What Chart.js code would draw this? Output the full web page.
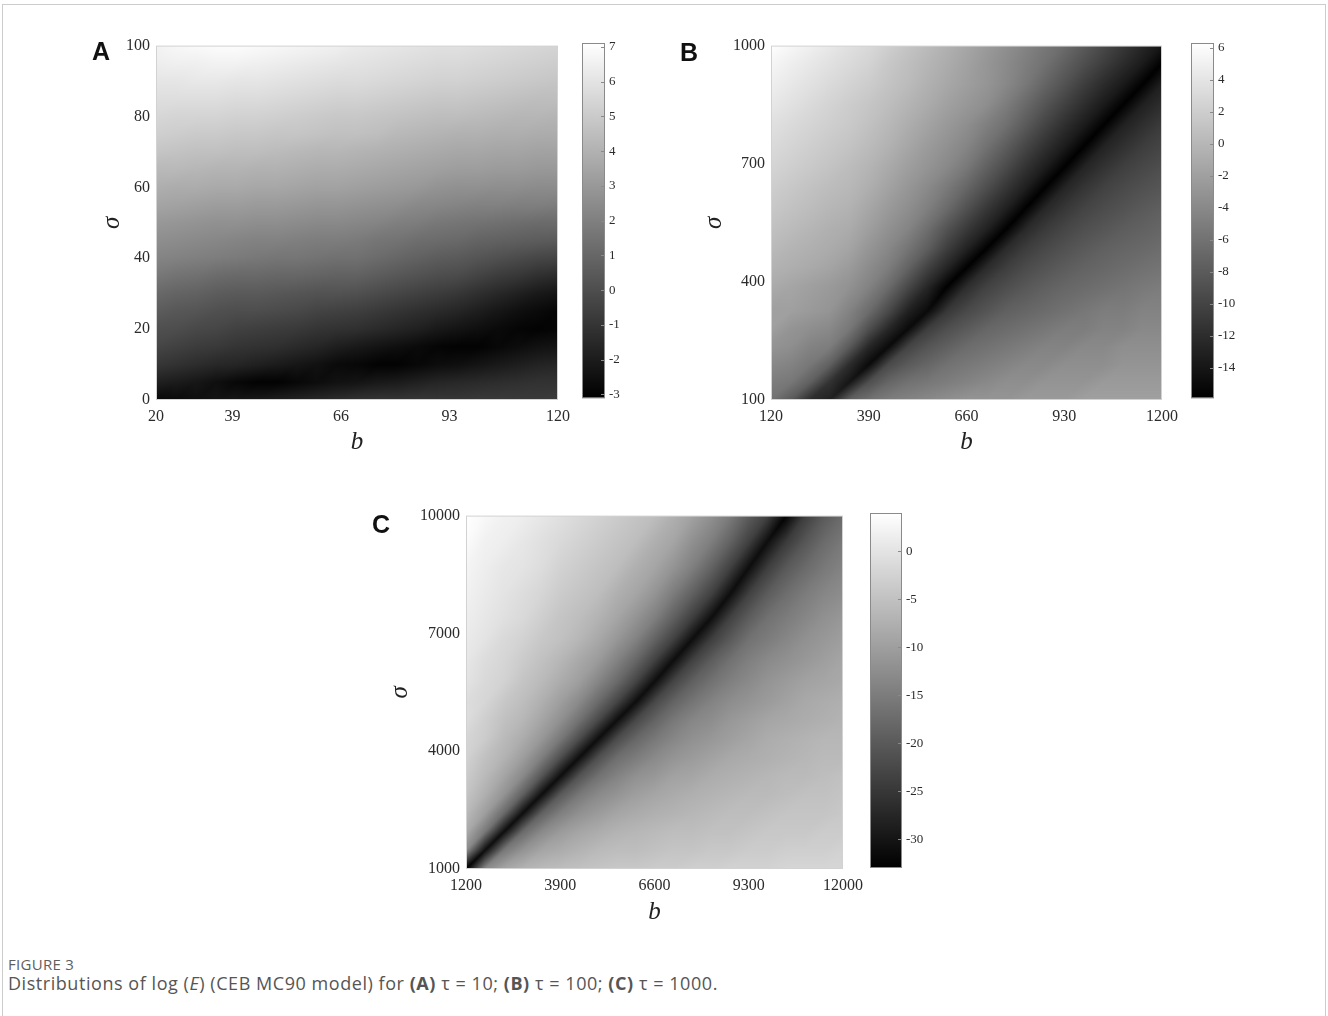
<!DOCTYPE html>
<html>
<head>
<meta charset="utf-8">
<title>Figure 3 - log(E) distributions</title>
<script src="https://cdn.jsdelivr.net/npm/chart.js@4.4.1/dist/chart.umd.min.js"></script>
<style>
  html, body { margin: 0; padding: 0; background: #ffffff; }
  body { position: relative; width: 1328px; height: 1016px; overflow: hidden; }
  .frame { position: absolute; left: 2px; top: 4px; width: 1322px; height: 1040px;
           border: 1px solid #cccccc; border-bottom: none; }
  canvas { position: absolute; }
  .letter { position: absolute; font-family: "Liberation Sans", Arial, sans-serif; font-weight: 700;
            font-size: 25px; line-height: 25px; color: #111111; }
  .caption { position: absolute; left: 8px; font-family: "Open Sans", "Noto Sans", sans-serif;
             color: #555555; white-space: nowrap; line-height: 1.3; }
  .caption.head { top: 955px; font-size: 15px; letter-spacing: 0.3px; color: #5e5e5e; }
  .caption.body { top: 972px; font-size: 18px; letter-spacing: 0.55px; }
</style>
</head>
<body>
<div class="frame"></div>

<canvas id="heatA" width="540" height="432" style="left:40px;top:30px"></canvas>
<canvas id="barA" width="60" height="380" style="left:582px;top:30px"></canvas>
<canvas id="heatB" width="530" height="432" style="left:655px;top:30px"></canvas>
<canvas id="barB" width="60" height="380" style="left:1191px;top:30px"></canvas>
<canvas id="heatC" width="520" height="431" style="left:350px;top:500px"></canvas>
<canvas id="barC" width="70" height="380" style="left:870px;top:500px"></canvas>

<div class="letter" style="left:92px;top:39px">A</div>
<div class="letter" style="left:680px;top:40px">B</div>
<div class="letter" style="left:372px;top:512px">C</div>

<div class="caption head">FIGURE 3</div>
<div class="caption body">Distributions of log (<i>E</i>) (CEB MC90 model) for <b>(A)</b> τ = 10; <b>(B)</b> τ = 100; <b>(C)</b> τ = 1000.</div>

<script>
// ---------- Panel A: tau = 10 ----------
const bA = [20, 25, 30, 35, 40, 45, 50, 55, 60, 65, 70, 75, 80, 85, 90, 95, 100, 105, 110, 115, 120];
const sigmaA = [100, 95, 90, 85, 80, 75, 70, 65, 60, 55, 50, 45, 40, 35, 30, 25, 20, 15, 10, 5, 0];
const logEA = [
  [6.6,6.8,6.9,7.0,7.0,6.9,6.8,6.7,6.6,6.5,6.3,6.2,6.1,6.0,5.9,5.9,5.8,5.7,5.6,5.5,5.4],
  [6.4,6.5,6.5,6.6,6.6,6.5,6.4,6.3,6.2,6.1,6.0,5.9,5.8,5.7,5.6,5.6,5.5,5.4,5.3,5.2,5.1],
  [6.1,6.1,6.2,6.2,6.1,6.1,6.0,5.9,5.8,5.7,5.7,5.6,5.5,5.4,5.3,5.3,5.2,5.1,5.0,4.9,4.8],
  [5.8,5.8,5.8,5.8,5.7,5.7,5.6,5.5,5.4,5.3,5.3,5.2,5.1,5.0,4.9,4.9,4.8,4.7,4.6,4.5,4.5],
  [5.5,5.4,5.4,5.4,5.3,5.3,5.2,5.1,5.0,4.9,4.9,4.8,4.7,4.6,4.5,4.5,4.4,4.3,4.2,4.2,4.1],
  [5.2,5.1,5.0,5.0,4.9,4.9,4.8,4.8,4.7,4.6,4.6,4.5,4.3,4.2,4.1,4.0,4.0,3.9,3.9,3.8,3.8],
  [4.8,4.7,4.6,4.6,4.5,4.5,4.4,4.3,4.2,4.2,4.1,4.0,3.9,3.8,3.7,3.6,3.6,3.5,3.5,3.4,3.4],
  [4.3,4.3,4.2,4.1,4.1,4.0,4.0,3.9,3.8,3.8,3.7,3.6,3.5,3.4,3.3,3.2,3.2,3.1,3.1,3.0,3.0],
  [3.9,3.8,3.8,3.7,3.7,3.6,3.6,3.5,3.4,3.4,3.3,3.2,3.1,3.0,2.8,2.7,2.7,2.6,2.6,2.5,2.5],
  [3.5,3.4,3.3,3.2,3.2,3.1,3.1,3.0,2.9,2.9,2.8,2.7,2.6,2.4,2.3,2.2,2.1,2.1,2.0,2.0,1.9],
  [3.0,2.9,2.8,2.7,2.7,2.6,2.6,2.5,2.4,2.4,2.3,2.2,2.0,1.9,1.7,1.6,1.5,1.4,1.3,1.2,1.2],
  [2.6,2.5,2.4,2.3,2.2,2.1,2.1,2.0,1.9,1.9,1.8,1.6,1.5,1.3,1.2,1.1,0.9,0.8,0.7,0.6,0.5],
  [2.2,2.1,2.0,1.9,1.8,1.7,1.6,1.6,1.5,1.4,1.4,1.2,1.0,0.8,0.6,0.5,0.3,0.1,-0.1,-0.3,-0.4],
  [1.7,1.5,1.4,1.2,1.1,1.1,1.0,1.0,0.9,0.8,0.8,0.6,0.4,0.2,0.0,-0.1,-0.4,-0.7,-0.9,-1.2,-1.4],
  [1.1,0.9,0.8,0.6,0.5,0.5,0.4,0.3,0.2,0.2,0.1,-0.1,-0.3,-0.5,-0.7,-0.9,-1.2,-1.5,-1.8,-2.1,-2.3],
  [0.6,0.4,0.3,0.1,0.0,0.0,-0.1,-0.2,-0.4,-0.5,-0.6,-0.8,-1.0,-1.2,-1.4,-1.6,-1.9,-2.2,-2.5,-2.7,-2.9],
  [0.1,0.0,-0.2,-0.3,-0.5,-0.6,-0.7,-0.8,-1.0,-1.1,-1.2,-1.4,-1.6,-1.8,-2.1,-2.3,-2.5,-2.7,-2.9,-3.0,-2.9],
  [-0.3,-0.5,-0.7,-0.8,-1.0,-1.1,-1.2,-1.4,-1.6,-1.9,-2.1,-2.3,-2.5,-2.7,-2.9,-3.0,-3.0,-2.8,-2.6,-2.4,-2.3],
  [-0.9,-1.1,-1.3,-1.5,-1.6,-1.8,-2.0,-2.2,-2.4,-2.7,-2.8,-3.0,-3.0,-2.8,-2.6,-2.5,-2.3,-2.1,-1.9,-1.7,-1.6],
  [-1.8,-2.0,-2.2,-2.5,-2.8,-3.0,-3.0,-2.8,-2.6,-2.4,-2.3,-2.1,-2.0,-1.8,-1.6,-1.5,-1.4,-1.3,-1.2,-1.1,-1.1],
  [-2.8,-2.7,-2.5,-2.3,-2.2,-2.1,-1.9,-1.7,-1.5,-1.3,-1.1,-1.0,-1.0,-0.9,-0.9,-0.9,-0.8,-0.8,-0.8,-0.8,-0.7]
];
const bTicksA = [20, 39, 66, 93, 120];
const sigmaTicksA = [0, 20, 40, 60, 80, 100];
const colorRangeA = [-3.11, 7.11];
const colorTicksA = [-3, -2, -1, 0, 1, 2, 3, 4, 5, 6, 7];

// ---------- Panel B: tau = 100 ----------
const bB = [120, 174, 228, 282, 336, 390, 444, 498, 552, 606, 660, 714, 768, 822, 876, 930, 984, 1038, 1092, 1146, 1200];
const sigmaB = [1000, 955, 901, 849, 797, 744, 691, 639, 586, 533, 484, 436, 388, 325, 280, 235, 190, 145, 100];
const logEB = [
  [6.3,5.6,5.0,4.3,3.6,3.0,2.1,1.2,0.4,-0.5,-1.4,-2.4,-3.4,-4.4,-5.5,-6.5,-8,-9.5,-11,-12.5,-14],
  [5.5,4.9,4.3,3.7,3.1,2.5,1.5,0.7,-0.1,-0.9,-1.8,-2.8,-3.8,-4.9,-6,-7.5,-9,-10.5,-12,-13.5,-15.8],
  [4.9,4.3,3.7,3.1,2.5,1.9,1.1,0.4,-0.5,-1.3,-2.1,-2.9,-4,-5.4,-7.1,-8.7,-10.5,-12.1,-13.6,-15.8,-13.1],
  [4.3,3.7,3.1,2.5,1.9,1.3,0.6,-0.2,-1,-1.9,-2.7,-3.5,-5,-6.7,-8.5,-10.2,-11.9,-13.6,-15.8,-13.1,-11.9],
  [3.6,3.1,2.6,2.1,1.6,0.9,0.1,-0.8,-1.7,-2.6,-3.5,-4.8,-6.1,-8,-10,-11.8,-13.5,-15.8,-13,-11.8,-10.7],
  [3.1,2.6,2.1,1.6,1.1,0.4,-0.4,-1.4,-2.4,-3.3,-4.3,-5.9,-7.7,-9.7,-11.6,-13.4,-15.8,-12.9,-11.7,-10.6,-9.9],
  [2.6,2.1,1.6,1.1,0.5,-0.2,-1.1,-2.1,-3,-4,-5.4,-7.4,-9.3,-11.4,-13.3,-15.8,-12.8,-11.5,-10.4,-9.7,-9.1],
  [2,1.5,1,0.5,0.1,-0.7,-1.75,-2.8,-3.9,-5.3,-7,-9,-11.1,-13.1,-15.8,-12.7,-11.3,-10.2,-9.5,-8.9,-8.4],
  [1.5,1,0.5,0,-0.4,-1.4,-2.5,-3.5,-4.8,-6.6,-8.8,-11,-13,-15.8,-12.5,-11.1,-10,-9.3,-8.7,-8.1,-7.6],
  [0.9,0.4,-0.1,-0.6,-1,-2.1,-3.3,-4.4,-6.3,-8.7,-10.9,-12.9,-15.8,-12.3,-10.8,-9.8,-9,-8.4,-7.8,-7.4,-7],
  [0.3,-0.2,-0.6,-1.0,-1.6,-2.9,-4.1,-5.7,-7.7,-10.5,-12.9,-15.8,-12.2,-10.6,-9.6,-8.8,-8.1,-7.5,-7.1,-6.8,-6.4],
  [-0.3,-0.7,-1.1,-1.6,-2.4,-3.7,-5,-7.2,-10.1,-12.7,-15.8,-12.2,-10.5,-9.4,-8.6,-7.9,-7.3,-6.9,-6.5,-6.1,-5.8],
  [-1,-1.5,-2,-2.5,-3.2,-4.5,-6.5,-9.5,-12.5,-15.8,-12,-10.2,-9.2,-8.3,-7.6,-7,-6.6,-6.2,-5.8,-5.4,-5.1],
  [-2,-2,-2.5,-3,-4.5,-6.5,-9.5,-13,-15,-11,-9.5,-8.5,-7.5,-7,-6.5,-6,-5.5,-5,-5,-4.5,-4.5],
  [-2,-3,-3.5,-4,-5.5,-9,-12.5,-15,-10.5,-9,-8,-7,-6.5,-6,-5.5,-5,-5,-4.5,-4.5,-4,-4],
  [-3,-3.5,-4.5,-5,-8,-12.5,-15,-10,-8.5,-7.5,-6.5,-6,-5.5,-5,-4.5,-4.5,-4,-4,-3.5,-3.5,-3.5],
  [-4,-4.5,-5.5,-7.5,-12,-15,-9.5,-8,-7,-6,-5.5,-5,-4.5,-4,-4,-3.5,-3.5,-3.5,-3,-3,-3],
  [-5,-5.5,-7.5,-11.5,-14,-9,-7,-6,-5.5,-5,-4.5,-4,-3.5,-3.5,-3,-3,-3,-2.5,-2.5,-2.5,-2.5],
  [-6,-8,-12,-13,-7.5,-6,-5,-4.5,-4,-3.5,-3,-3,-3,-2.5,-2.5,-2.5,-2,-2,-2,-2,-2]
];
const bTicksB = [120, 390, 660, 930, 1200];
const sigmaTicksB = [100, 400, 700, 1000];
const colorRangeB = [-15.9, 6.3];
const colorTicksB = [-14, -12, -10, -8, -6, -4, -2, 0, 2, 4, 6];

// ---------- Panel C: tau = 1000 ----------
const bC = [1200, 1740, 2280, 2820, 3360, 3900, 4440, 4980, 5520, 6060, 6600, 7140, 7680, 8220, 8760, 9300, 9840, 10380, 10920, 11460, 12000];
const sigmaC = [10000, 9348, 8673, 7998, 7390, 6850, 6310, 5770, 5250, 4780, 4308, 3835, 3362, 2890, 2418, 1945, 1472, 1000];
const logEC = [
  [4,3,2,1.5,0.5,-0.5,-1.5,-2.5,-3.5,-4.5,-5.5,-7.5,-9.5,-12,-15,-19.5,-23.5,-32.5,-24,-20,-17.5],
  [3.5,2,1.5,0.5,-0.5,-1.5,-2.5,-3.5,-4.5,-5.5,-7.5,-9,-12,-14.5,-18.5,-23.5,-31,-24.5,-20.5,-17.5,-15.5],
  [2.5,1.5,0.5,0,-1,-2.5,-3.5,-4.5,-5.5,-7.5,-9,-11.5,-14.5,-18.5,-23.5,-31,-24,-20,-17.5,-15.5,-14],
  [2,1,0,-1,-2,-3.5,-4.5,-5.5,-7.5,-9,-11.5,-15,-19,-23.5,-31,-23.5,-19.5,-17,-15,-13.5,-12.5],
  [1.5,0.5,-0.5,-1.5,-3,-4.5,-5.5,-7,-9,-11.5,-14.5,-19,-24,-31,-23.5,-19.5,-16.5,-15,-13.5,-12,-11],
  [1,0,-1.5,-2.5,-4,-5,-6.5,-8.5,-11,-14,-18.5,-23.5,-31,-24,-20,-16.5,-15,-13.5,-12,-11,-10],
  [0.5,-1,-2,-3.5,-5,-6.5,-8.5,-10.5,-14,-18,-23.5,-31,-23.5,-19.5,-16.5,-14.5,-13,-12,-11,-10,-9],
  [0,-1.5,-2.5,-4.5,-6,-8,-10,-13.5,-17.5,-23,-31,-23,-19,-16.5,-14.5,-13,-11.5,-10.5,-9.5,-9,-8.5],
  [-1,-2,-4,-5.5,-7.5,-10,-13,-17.5,-23,-31,-22.5,-18.5,-16,-14,-12.5,-11.5,-10.5,-9.5,-8.5,-8,-7.5],
  [-1,-3,-5,-6.5,-9,-12,-16.5,-22.5,-31,-22.5,-18.5,-15.5,-13.5,-12.5,-11,-10,-9,-8.5,-8,-7.5,-7],
  [-2,-3.5,-6,-8,-11,-15.5,-22,-31,-22,-18,-15.5,-13.5,-12,-11,-10,-9,-8,-7.5,-7,-6.5,-6.5],
  [-2.5,-5,-7,-10,-14.5,-21.5,-31,-21.5,-17,-15,-13,-11.5,-10.5,-9.5,-8.5,-8,-7.5,-7,-6.5,-6,-6],
  [-3.5,-6,-9,-13,-20.5,-31,-21,-16.5,-14,-12,-11,-9.5,-9,-8,-7.5,-7,-6.5,-6,-6,-5.5,-5],
  [-4.5,-7.5,-11.5,-19,-31,-20,-15.5,-13,-11.5,-10,-9,-8.2,-7.5,-7,-6.5,-6,-6,-5.5,-5,-5,-4.5],
  [-6,-10,-17.5,-31,-19,-14.5,-12,-10.5,-9,-8.2,-7.5,-7,-6.5,-6,-5.5,-5.5,-5,-4.5,-4.5,-4.5,-4],
  [-8,-15.5,-31,-17.5,-13,-10.5,-9,-8,-7,-6.5,-6,-5.5,-5.5,-5,-5,-4.5,-4,-4,-4,-3.5,-3.5],
  [-12.5,-31,-15.5,-11.5,-9,-8,-7,-6,-5.5,-5.5,-5,-4.5,-4.5,-4,-4,-3.5,-3.5,-3,-3,-3,-2.5],
  [-33,-13,-9,-7,-6,-5.5,-5,-4.5,-4,-4,-3.5,-3.5,-3,-3,-2.5,-2.5,-2.5,-2,-2,-2,-2]
];
const bTicksC = [1200, 3900, 6600, 9300, 12000];
const sigmaTicksC = [1000, 4000, 7000, 10000];
const colorRangeC = [-33, 4.0];
const colorTicksC = [-30, -25, -20, -15, -10, -5, 0];

// ---------- shared styling ----------
const SERIF = '"Liberation Serif", "Times New Roman", serif';
const TICK_COLOR = '#2b2b2b';

// position of a value inside a monotonic list, as a fractional index
function fracIndex(list, val) {
  const n = list.length;
  const asc = list[n - 1] > list[0];
  for (let i = 0; i < n - 1; i++) {
    const a = list[i], b = list[i + 1];
    const inside = asc ? (val >= a && val <= b) : (val <= a && val >= b);
    if (inside) return i + (val - a) / (b - a);
  }
  if (asc) return val < list[0] ? 0 : n - 1;
  return val > list[0] ? 0 : n - 1;
}

// value inside a grid cell: each cell is split along its rising diagonal
// (lower-left to upper-right) and shaded linearly over the two triangles
function gridValue(grid, r, c) {
  const nr = grid.length, nc = grid[0].length;
  let r0 = Math.floor(r), c0 = Math.floor(c);
  if (r0 > nr - 2) r0 = nr - 2;
  if (c0 > nc - 2) c0 = nc - 2;
  const tr = r - r0, tc = c - c0;
  const v00 = grid[r0][c0], v01 = grid[r0][c0 + 1];
  const v10 = grid[r0 + 1][c0], v11 = grid[r0 + 1][c0 + 1];
  if (tc + tr <= 1) return v00 + tc * (v01 - v00) + tr * (v10 - v00);
  return v11 + (1 - tc) * (v10 - v11) + (1 - tr) * (v01 - v11);
}

// draws the log(E) field into the plot area, using the chart's own x/y scales
const heatmapPlugin = {
  id: 'logEField',
  beforeDatasetsDraw(chart, args, opts) {
    const { ctx, chartArea: area, scales: { x, y } } = chart;
    const w = Math.round(area.right - area.left);
    const h = Math.round(area.bottom - area.top);
    const off = document.createElement('canvas');
    off.width = w; off.height = h;
    const octx = off.getContext('2d');
    const img = octx.createImageData(w, h);
    const colIdx = new Float64Array(w);
    for (let px = 0; px < w; px++) colIdx[px] = fracIndex(opts.cols, x.getValueForPixel(area.left + px + 0.5));
    const [lo, hi] = opts.range;
    for (let py = 0; py < h; py++) {
      const r = fracIndex(opts.rows, y.getValueForPixel(area.top + py + 0.5));
      for (let px = 0; px < w; px++) {
        const v = gridValue(opts.grid, r, colIdx[px]);
        let g = (v - lo) / (hi - lo);
        g = Math.max(0, Math.min(1, g));
        const c = Math.round(g * 255);
        const k = (py * w + px) * 4;
        img.data[k] = c; img.data[k + 1] = c; img.data[k + 2] = c; img.data[k + 3] = 255;
      }
    }
    octx.putImageData(img, 0, 0);
    ctx.drawImage(off, area.left, area.top);
  },
  afterDatasetsDraw(chart) {
    const { ctx, chartArea: a } = chart;
    ctx.save();
    ctx.strokeStyle = '#d2d2d2';
    ctx.lineWidth = 1;
    ctx.strokeRect(a.left + 0.5, a.top + 0.5, a.right - a.left - 1, a.bottom - a.top - 1);
    ctx.restore();
  }
};

// frame and inner tick marks of a colour bar
const colorbarFramePlugin = {
  id: 'colorbarFrame',
  afterDatasetsDraw(chart, args, opts) {
    const { ctx, chartArea: a, scales: { y } } = chart;
    ctx.save();
    ctx.strokeStyle = '#8a8a8a';
    ctx.lineWidth = 1;
    ctx.strokeRect(a.left + 0.5, a.top + 0.5, a.right - a.left - 1, a.bottom - a.top - 1);
    ctx.beginPath();
    opts.ticks.forEach(v => {
      const py = Math.round(y.getPixelForValue(v)) + 0.5;
      ctx.moveTo(a.right - 4, py);
      ctx.lineTo(a.right, py);
    });
    ctx.stroke();
    ctx.restore();
  }
};

function heatmapChart(id, p) {
  const nodes = [];
  p.rows.forEach((s, i) => p.cols.forEach((b, j) => nodes.push({ x: b, y: s, v: p.grid[i][j] })));
  return new Chart(document.getElementById(id), {
    type: 'scatter',
    data: { datasets: [{ label: 'log(E)', data: nodes, pointRadius: 0, pointHoverRadius: 0 }] },
    plugins: [heatmapPlugin],
    options: {
      responsive: false, animation: false, events: [],
      layout: { padding: p.padding },
      plugins: {
        legend: { display: false }, tooltip: { enabled: false },
        logEField: { cols: p.cols, rows: p.rows, grid: p.grid, range: p.range }
      },
      scales: {
        x: {
          type: 'linear', min: p.xMin, max: p.xMax,
          grid: { display: false, drawTicks: false }, border: { display: false },
          ticks: { font: { family: SERIF, size: 16 }, color: TICK_COLOR, padding: 7,
                   autoSkip: false, maxRotation: 0, callback: v => String(v) },
          afterBuildTicks: s => { s.ticks = p.xTicks.map(v => ({ value: v })); },
          afterFit: s => { s.height = 62; },
          title: { display: true, text: 'b', color: '#222222',
                   font: { family: SERIF, size: 25, style: 'italic' },
                   padding: { top: 0, bottom: p.bTitlePad } }
        },
        y: {
          type: 'linear', min: p.yMin, max: p.yMax,
          grid: { display: false, drawTicks: false }, border: { display: false },
          ticks: { font: { family: SERIF, size: 16 }, color: TICK_COLOR, padding: 6,
                   autoSkip: false, callback: v => String(v) },
          afterBuildTicks: s => { s.ticks = p.yTicks.map(v => ({ value: v })); },
          afterFit: s => { s.width = 116; },
          title: { display: true, text: 'σ', color: '#222222',
                   font: { family: SERIF, size: 25, style: 'italic' },
                   padding: { top: p.sTitlePad, bottom: 0 } }
        }
      }
    }
  });
}

function colorbarChart(id, p) {
  const [lo, hi] = p.range;
  return new Chart(document.getElementById(id), {
    type: 'bar',
    data: {
      labels: ['log(E)'],
      datasets: [{
        data: [[lo, hi]],
        barPercentage: 1, categoryPercentage: 1, borderWidth: 0,
        backgroundColor: c => {
          const area = c.chart.chartArea;
          if (!area) return '#808080';
          const g = c.chart.ctx.createLinearGradient(0, area.bottom, 0, area.top);
          g.addColorStop(0, '#000000');
          g.addColorStop(1, '#ffffff');
          return g;
        }
      }]
    },
    plugins: [colorbarFramePlugin],
    options: {
      responsive: false, animation: false, events: [],
      layout: { padding: p.padding },
      plugins: { legend: { display: false }, tooltip: { enabled: false },
                 colorbarFrame: { ticks: p.ticks } },
      scales: {
        x: { display: false },
        y: {
          position: 'right', min: lo, max: hi,
          grid: { display: false, drawTicks: false }, border: { display: false },
          ticks: { font: { family: SERIF, size: 13 }, color: TICK_COLOR, padding: 4,
                   autoSkip: false, callback: v => String(v) },
          afterBuildTicks: s => { s.ticks = p.ticks.map(v => ({ value: v })); },
          afterFit: s => { s.width = p.axisW; }
        }
      }
    }
  });
}

heatmapChart('heatA', {
  cols: bA, rows: sigmaA, grid: logEA, range: colorRangeA,
  xMin: 20, xMax: 120, yMin: 0, yMax: 100, xTicks: bTicksA, yTicks: sigmaTicksA,
  padding: { left: 0, top: 14, right: 22, bottom: 0 }, sTitlePad: 57, bTitlePad: 5
});
colorbarChart('barA', { range: colorRangeA, ticks: colorTicksA, axisW: 37,
  padding: { left: 0, right: 0, top: 13, bottom: 10 } });

heatmapChart('heatB', {
  cols: bB, rows: sigmaB, grid: logEB, range: colorRangeB,
  xMin: 120, xMax: 1200, yMin: 100, yMax: 1000, xTicks: bTicksB, yTicks: sigmaTicksB,
  padding: { left: 0, top: 14, right: 22, bottom: 0 }, sTitlePad: 44, bTitlePad: 5
});
colorbarChart('barB', { range: colorRangeB, ticks: colorTicksB, axisW: 37,
  padding: { left: 0, right: 0, top: 13, bottom: 10 } });

heatmapChart('heatC', {
  cols: bC, rows: sigmaC, grid: logEC, range: colorRangeC,
  xMin: 1200, xMax: 12000, yMin: 1000, yMax: 10000, xTicks: bTicksC, yTicks: sigmaTicksC,
  padding: { left: 0, top: 14, right: 23, bottom: 0 }, sTitlePad: 35, bTitlePad: 4
});
colorbarChart('barC', { range: colorRangeC, ticks: colorTicksC, axisW: 38,
  padding: { left: 0, right: 0, top: 13, bottom: 12 } });
</script>
</body>
</html>
